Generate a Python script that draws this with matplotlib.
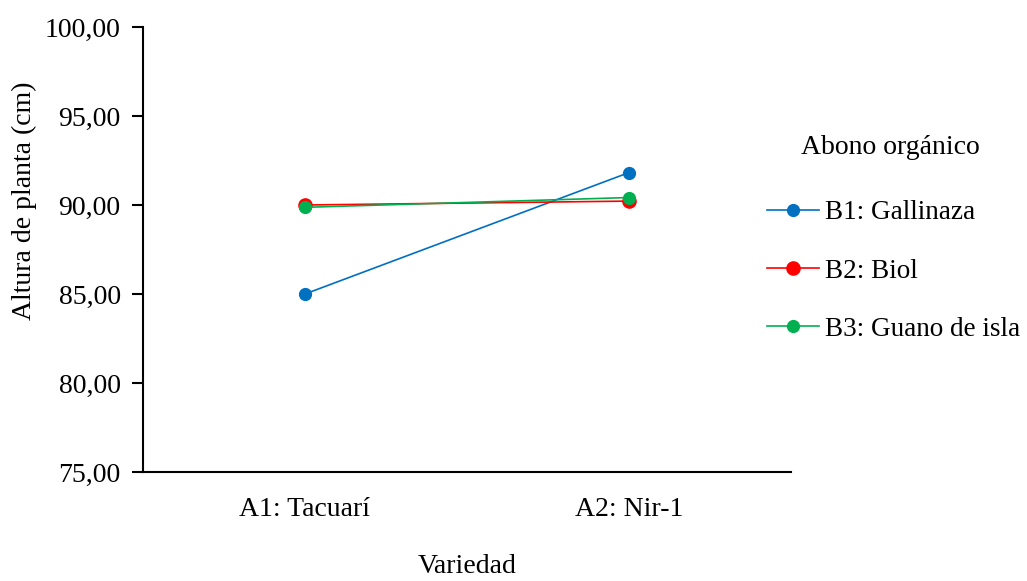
import matplotlib.pyplot as plt
import numpy as np

plt.rcParams['font.family'] = ['Liberation Serif', 'DejaVu Serif']

variedad = ['A1: Tacuarí', 'A2: Nir-1']
gallinaza = [85.00, 91.82]
biol = [90.00, 90.22]
guano = [89.87, 90.42]

series = [('B1: Gallinaza', gallinaza, '#0070C0', 8.5),
          ('B2: Biol', biol, '#FF0000', 9.5),
          ('B3: Guano de isla', guano, '#00B050', 8.5)]

fig = plt.figure(figsize=(10.27, 5.81), dpi=100)
ax = fig.add_axes([0.1392, 0.1876, 0.6308, 0.7659])

x = np.arange(len(variedad))
for name, vals, col, ms in series:
    ax.plot(x, vals, color=col, linewidth=1.2, marker='o', markersize=ms, label=name)

ax.set_xlim(-0.5, 1.5)
ax.set_ylim(75, 100)
yt = np.arange(75, 101, 5)
ax.set_yticks(yt)
ax.set_yticklabels([('%.2f' % v).replace('.', ',') for v in yt])
ax.set_xticks(x)
ax.set_xticklabels(variedad)

for s in ['top', 'right']:
    ax.spines[s].set_visible(False)
for s in ['left', 'bottom']:
    ax.spines[s].set_linewidth(1.5)
ax.tick_params(axis='y', direction='out', length=8, width=1.5, labelsize=20, pad=8)
ax.tick_params(axis='x', length=0, labelsize=20, pad=18)

ax.set_ylabel('Altura de planta (cm)', fontsize=20)
ax.yaxis.set_label_coords(-0.164, 0.609)
ax.set_xlabel('Variedad', fontsize=20, labelpad=23)

# legend title drawn separately so the gap to the entries matches
fig.text(0.867, 1 - 147 / 581, 'Abono orgánico', fontsize=20, ha='center', va='center')
fig.legend(loc='center left', bbox_to_anchor=(0.747, 1 - 271 / 581), frameon=False,
           fontsize=19.5, borderpad=0, borderaxespad=0, labelspacing=1.22,
           handlelength=1.9, handletextpad=0.25)

plt.savefig('out.png', dpi=100)
